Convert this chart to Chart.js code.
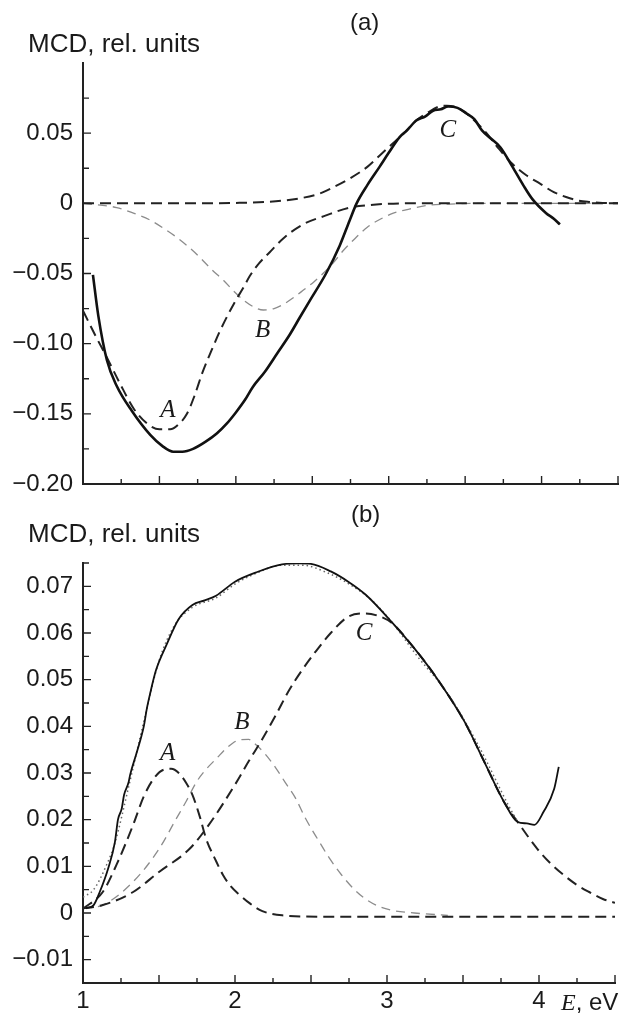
<!DOCTYPE html>
<html><head><meta charset="utf-8">
<script src="https://cdn.jsdelivr.net/npm/chart.js@4/dist/chart.umd.min.js"></script>
<style>
html,body{margin:0;padding:0;background:#fff;}
body{width:619px;height:1015px;position:relative;overflow:hidden;font-family:"Liberation Sans",Arial,sans-serif;color:#1a1a1a;}
canvas{position:absolute;left:0;}
#ca{top:0;}
#cb{top:510px;}
.t{position:absolute;white-space:nowrap;line-height:1;}
.s{font-family:"Liberation Serif","Times New Roman",serif;font-style:italic;}
</style></head><body>
<canvas id="ca" width="619" height="510" style="width:619px;height:510px"></canvas>
<canvas id="cb" width="619" height="505" style="width:619px;height:505px"></canvas>
<div class="t" style="left:350px;top:10px;font-size:24px;">(a)</div>
<div class="t" style="left:28px;top:30px;font-size:26px;">MCD, rel. units</div>
<div class="t" style="left:351px;top:502px;font-size:24px;">(b)</div>
<div class="t" style="left:28px;top:520px;font-size:26px;">MCD, rel. units</div>
<div class="t" style="left:561px;top:990px;font-size:24px;"><span class="s">E</span>, eV</div>
<script>
// ---------- Panel (a) ----------
const aExpE = [1.065,1.10,1.157,1.22,1.32,1.44,1.52,1.59,1.65,1.72,1.80,1.875,1.94,2.0,2.06,2.11,2.19,2.27,2.35,2.42,2.48,2.59,2.68,2.745,2.79,2.86,2.94,3.0,3.07,3.12,3.18,3.24,3.29,3.34,3.39,3.45,3.51,3.56,3.61,3.67,3.73,3.81,3.88,3.94,4.03,4.08,4.12];
const aExpV = [-0.051,-0.080,-0.112,-0.130,-0.148,-0.165,-0.173,-0.177,-0.177,-0.175,-0.170,-0.164,-0.157,-0.149,-0.140,-0.131,-0.120,-0.107,-0.094,-0.081,-0.070,-0.050,-0.030,-0.012,0.000,0.013,0.026,0.036,0.047,0.052,0.059,0.062,0.066,0.067,0.069,0.068,0.064,0.060,0.052,0.046,0.040,0.026,0.013,0.003,-0.007,-0.011,-0.015];
const aAE = [1.0,1.08,1.157,1.24,1.33,1.42,1.50,1.57,1.63,1.68,1.73,1.78,1.84,1.9,2.0,2.05,2.09,2.15,2.22,2.31,2.44,2.59,2.745,2.9,3.1,3.5,4.0,4.5];
const aAV = [-0.0765,-0.094,-0.110,-0.128,-0.146,-0.157,-0.161,-0.161,-0.157,-0.150,-0.137,-0.121,-0.105,-0.090,-0.069,-0.060,-0.052,-0.043,-0.035,-0.025,-0.015,-0.0086,-0.003,-0.001,0,0,0,0];
const aBE = [1.0,1.22,1.33,1.44,1.53,1.61,1.69,1.76,1.84,1.92,1.99,2.05,2.12,2.18,2.25,2.31,2.38,2.44,2.51,2.57,2.64,2.70,2.78,2.86,2.95,3.03,3.14,3.25,3.4,3.6,4.0,4.5];
const aBV = [0,-0.003,-0.007,-0.012,-0.018,-0.024,-0.031,-0.038,-0.047,-0.055,-0.063,-0.069,-0.074,-0.076,-0.075,-0.072,-0.067,-0.062,-0.056,-0.050,-0.042,-0.034,-0.025,-0.017,-0.011,-0.007,-0.004,-0.0015,-0.0005,0,0,0];
const aCE = [1.0,1.5,2.0,2.2,2.42,2.55,2.63,2.75,2.86,2.95,3.03,3.1,3.18,3.26,3.33,3.38,3.45,3.52,3.58,3.64,3.72,3.81,3.9,3.99,4.08,4.16,4.24,4.31,4.4,4.5];
const aCV = [0,0,0.0003,0.001,0.0036,0.007,0.011,0.018,0.026,0.035,0.043,0.050,0.059,0.065,0.069,0.0695,0.068,0.063,0.057,0.050,0.039,0.028,0.020,0.014,0.008,0.0045,0.002,0.001,0.0003,0];
const aYTickVals = [0.05,0,-0.05,-0.10,-0.15,-0.20];
const aYTickLabels = ['0.05','0','\u22120.05','\u22120.10','\u22120.15','\u22120.20'];

// ---------- Panel (b) ----------
const bExpE = [1.02,1.07,1.11,1.165,1.21,1.23,1.255,1.27,1.30,1.31,1.35,1.385,1.40,1.42,1.44,1.48,1.55,1.63,1.72,1.80,1.875,2.0,2.14,2.31,2.42,2.50,2.63,2.745,2.86,3.03,3.18,3.33,3.51,3.64,3.77,3.86,3.92,3.97,4.03,4.10,4.13];
const bExpV = [0.001,0.0017,0.0045,0.0095,0.0152,0.020,0.0224,0.0253,0.028,0.0296,0.034,0.038,0.040,0.0438,0.0468,0.052,0.0575,0.063,0.066,0.067,0.068,0.071,0.073,0.0747,0.0749,0.0748,0.0732,0.0710,0.0682,0.0624,0.0567,0.0502,0.041,0.0324,0.0238,0.0195,0.0192,0.0189,0.0217,0.0266,0.0313];
const bFitE = [1.0,1.07,1.155,1.21,1.3,1.4,1.5,1.6,1.72,1.875,2.0,2.14,2.3,2.45,2.6,2.75,2.9,3.03,3.2,3.4,3.6,3.8,3.86];
const bFitV = [0.0034,0.005,0.0103,0.015,0.027,0.041,0.054,0.0615,0.0655,0.0675,0.0705,0.0728,0.0745,0.0745,0.073,0.0705,0.067,0.0624,0.055,0.047,0.036,0.023,0.0195];
const bAE = [1.0,1.13,1.22,1.33,1.40,1.47,1.53,1.58,1.63,1.68,1.72,1.77,1.81,1.87,1.92,1.97,2.03,2.1,2.18,2.31,2.6,3.0,3.5,4.0,4.5];
const bAV = [0.0009,0.0045,0.0103,0.0189,0.025,0.029,0.0307,0.0309,0.030,0.0278,0.0253,0.0205,0.0159,0.0115,0.0082,0.0058,0.0039,0.002,0.0004,-0.0005,-0.0008,-0.0008,-0.0008,-0.0008,-0.0008];
const bBE = [1.0,1.13,1.33,1.5,1.61,1.68,1.745,1.81,1.875,1.95,2.03,2.09,2.14,2.2,2.27,2.33,2.40,2.46,2.55,2.62,2.70,2.78,2.85,2.94,3.03,3.18,3.4];
const bBV = [0.001,0.0017,0.0067,0.0137,0.020,0.024,0.028,0.0308,0.033,0.0355,0.0371,0.0372,0.036,0.034,0.031,0.028,0.0245,0.0205,0.0155,0.0118,0.0082,0.0052,0.0032,0.0015,0.0006,0,-0.0005];
const bCE = [1.0,1.13,1.33,1.5,1.70,1.83,2.0,2.09,2.18,2.27,2.35,2.44,2.53,2.63,2.745,2.86,2.94,3.03,3.18,3.33,3.51,3.64,3.77,3.86,3.99,4.08,4.16,4.25,4.33,4.42,4.5];
const bCV = [0.001,0.0017,0.0045,0.0088,0.0137,0.019,0.0275,0.0325,0.0373,0.0425,0.0474,0.052,0.056,0.060,0.0635,0.0642,0.0637,0.0622,0.0567,0.0502,0.041,0.0324,0.0238,0.0195,0.0137,0.0105,0.0082,0.006,0.0045,0.003,0.0022];
const bYTickVals = [0.07,0.06,0.05,0.04,0.03,0.02,0.01,0,-0.01];
const bYTickLabels = ['0.07','0.06','0.05','0.04','0.03','0.02','0.01','0','\u22120.01'];

const xTickVals = [1,2,3,4];
const xTickLabels = ['1','2','3','4'];
const curveNames = ['A','B','C'];

// label anchor positions (data coordinates)
const aNameE = [1.556,2.176,3.386];
const aNameV = [-0.1475,-0.0905,0.052];
const bNameE = [1.556,2.046,2.85];
const bNameV = [0.0343,0.0409,0.060];

const pts = (E,V)=>E.map((e,i)=>({x:e,y:V[i]}));
const FONT = '"Liberation Sans", Arial, sans-serif';
const INK = '#1a1a1a';

function near(v, arr){ return arr.findIndex(a=>Math.abs(a-v)<1e-9); }

const inTicks = {
  id:'inTicks',
  afterDraw(chart){
    const ctx = chart.ctx, xs = chart.scales.x, ys = chart.scales.y, ca = chart.chartArea;
    const labeled = chart.options.plugins.inTicks.yVals;
    ctx.save();
    ctx.strokeStyle = '#222'; ctx.lineWidth = 1.4;
    ctx.beginPath();
    xs.ticks.forEach(t=>{
      const px = xs.getPixelForValue(t.value);
      const major = Math.abs(t.value*2 - Math.round(t.value*2))<1e-9;
      const L = major ? 8 : 5;
      ctx.moveTo(px, ca.bottom); ctx.lineTo(px, ca.bottom - L);
    });
    ys.ticks.forEach(t=>{
      const py = ys.getPixelForValue(t.value);
      const L = near(t.value, labeled) >= 0 ? 8 : 6;
      ctx.moveTo(ca.left, py); ctx.lineTo(ca.left + L, py);
    });
    ctx.stroke();
    const nm = chart.options.plugins.inTicks.names;
    ctx.fillStyle = '#1a1a1a';
    ctx.font = 'italic 25px "Liberation Serif", "Times New Roman", serif';
    ctx.textAlign = 'center'; ctx.textBaseline = 'middle';
    nm.E.forEach((e,i)=>{
      ctx.fillText(curveNames[i], xs.getPixelForValue(e), ys.getPixelForValue(nm.V[i]));
    });
    ctx.restore();
  }
};

function makeChart(id, cfg){
  const yTicks = [];
  for (let k = Math.round(cfg.ymin/cfg.ystep); k <= Math.round(cfg.ytop/cfg.ystep); k++) yTicks.push(+(k*cfg.ystep).toFixed(6));
  const xTicks = [];
  for (let k = 0; k <= 14; k++) xTicks.push(1 + k*0.25);
  return new Chart(document.getElementById(id), {
    type:'line',
    data:{datasets: cfg.datasets},
    options:{
      responsive:false, animation:false, devicePixelRatio:1,
      layout:{padding:{top:cfg.padTop, right:1, left:0, bottom:0}},
      plugins:{legend:{display:false}, tooltip:{enabled:false},
        inTicks:{yVals: cfg.yVals, names: cfg.names}},
      elements:{point:{radius:0}, line:{cubicInterpolationMode:'monotone', fill:false}},
      scales:{
        x:{type:'linear', min:1, max:4.5,
          afterBuildTicks: s=>{ s.ticks = xTicks.map(v=>({value:v})); },
          afterFit: s=>{ s.height = cfg.xHeight; },
          grid:{display:false, drawTicks:false},
          border:{display:true, color:'#222', width:2},
          ticks:{display: cfg.xLabels, autoSkip:false, maxRotation:0, padding:4, color:INK,
            font:{family:FONT, size:24},
            callback: v=>{ const i = near(v, xTickVals); return i>=0 ? xTickLabels[i] : ''; }}
        },
        y:{type:'linear', min:cfg.ymin, max:cfg.ymax,
          afterBuildTicks: s=>{ s.ticks = yTicks.map(v=>({value:v})); },
          afterFit: s=>{ s.width = 83; },
          grid:{display:false, drawTicks:false},
          border:{display:true, color:'#222', width:2},
          ticks:{autoSkip:false, padding:10, color:INK, font:{family:FONT, size:24},
            callback: v=>{ const i = near(v, cfg.yVals); return i>=0 ? cfg.yLabels[i] : ''; }}
        }
      }
    },
    plugins:[inTicks]
  });
}

const darkDash = {borderColor:'#222', borderWidth:2, borderDash:[11,6]};
const grayDash = {borderColor:'#8c8c8c', borderWidth:1.3, borderDash:[9,6]};

makeChart('ca', {
  ymin:-0.2, ymax:0.1, ytop:0.075, ystep:0.025, padTop:63, xHeight:26, xLabels:false,
  yVals:aYTickVals, yLabels:aYTickLabels, names:{E:aNameE, V:aNameV},
  datasets:[
    {data:pts(aExpE,aExpV), borderColor:'#111', borderWidth:2.6},
    Object.assign({data:pts(aAE,aAV)}, darkDash),
    Object.assign({data:pts(aCE,aCV)}, darkDash),
    Object.assign({data:pts(aBE,aBV)}, grayDash)
  ]
});

makeChart('cb', {
  ymin:-0.015, ymax:0.075, ytop:0.075, ystep:0.005, padTop:53, xHeight:32, xLabels:true,
  yVals:bYTickVals, yLabels:bYTickLabels, names:{E:bNameE, V:bNameV},
  datasets:[
    {data:pts(bExpE,bExpV), borderColor:'#111', borderWidth:1.8},
    {data:pts(bFitE,bFitV), borderColor:'#666', borderWidth:1.5, borderDash:[1.5,3]},
    Object.assign({data:pts(bAE,bAV)}, darkDash),
    Object.assign({data:pts(bCE,bCV)}, darkDash),
    Object.assign({data:pts(bBE,bBV)}, grayDash)
  ]
});
</script>
</body></html>
